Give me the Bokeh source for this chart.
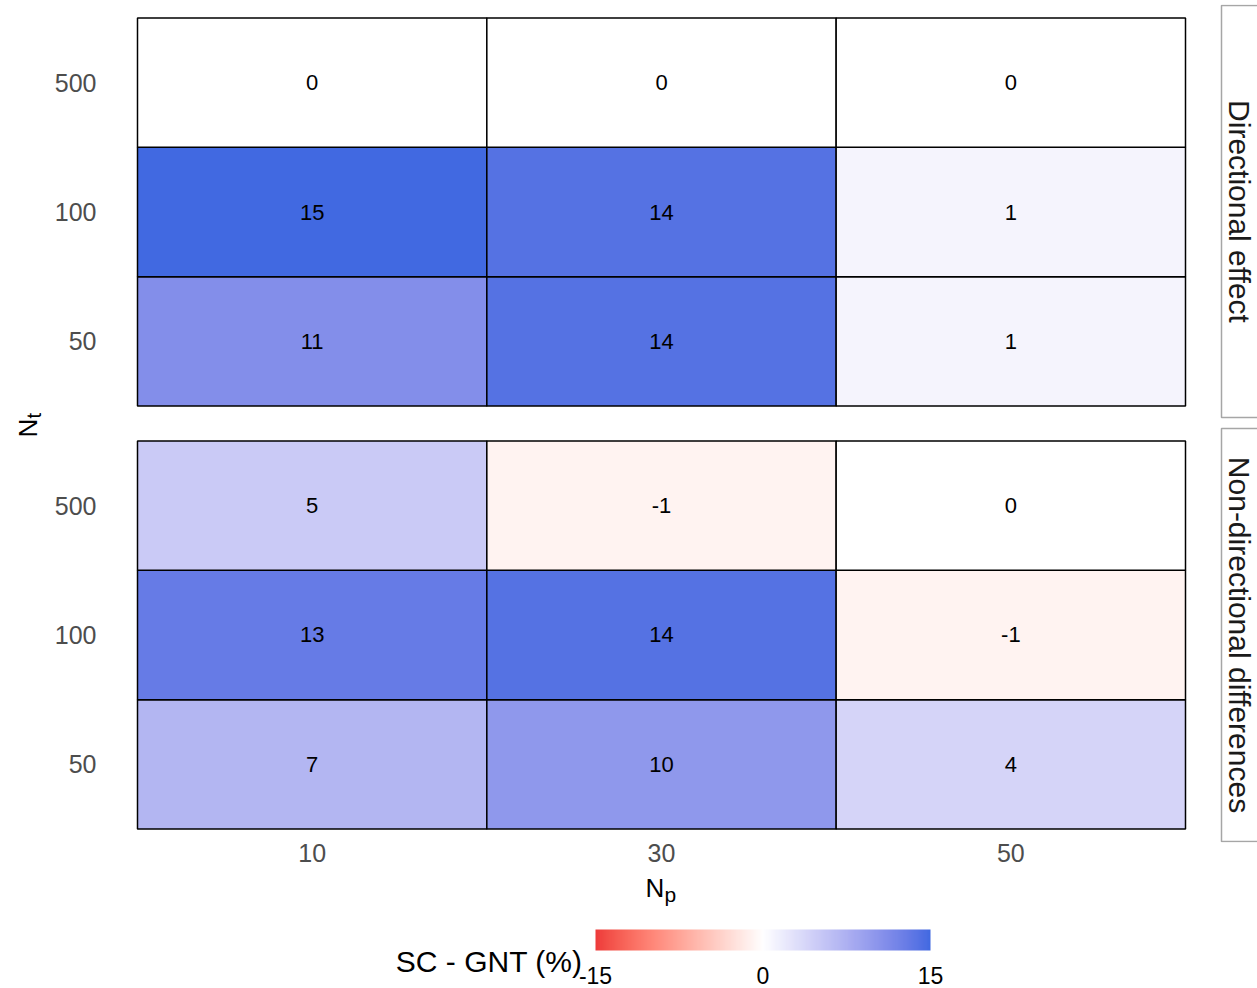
import numpy as np
from bokeh.plotting import figure
from bokeh.models import (ColumnDataSource, FactorRange, Range1d, LinearColorMapper)
from bokeh.layouts import column, row
from bokeh.transform import linear_cmap
from bokeh.core.properties import value
from bokeh.embed import file_html
from bokeh.resources import INLINE

# ---------------- data ----------------
np_levels = ["10", "30", "50"]                 # N_p (x)
nt_levels = ["50", "100", "500"]               # N_t (y, bottom -> top)
panels = ["Non-directional differences", "Directional effect"]  # bottom -> top

directional_50 = [11, 14, 1]
directional_100 = [15, 14, 1]
directional_500 = [0, 0, 0]
nondirectional_50 = [7, 10, 4]
nondirectional_100 = [13, 14, -1]
nondirectional_500 = [5, -1, 0]

legend_title = "SC - GNT (%)"
legend_ticks = [-15, 0, 15]
fill_low, fill_high = -15, 15
col_low, col_mid, col_high = "#EE3B3B", "#FFFFFF", "#4169E1"

# ---------------- colour ramp (CIELAB, like ggplot2 gradient2) ----------------
M = np.array([[0.4124564, 0.3575761, 0.1804375],
              [0.2126729, 0.7151522, 0.0721750],
              [0.0193339, 0.1191920, 0.9503041]])
Minv = np.linalg.inv(M)
WP = (0.95047, 1.0, 1.08883)
D = 6 / 29


def _lin(c):
    return c / 12.92 if c <= 0.04045 else ((c + 0.055) / 1.055) ** 2.4


def _delin(c):
    return 12.92 * c if c <= 0.0031308 else 1.055 * c ** (1 / 2.4) - 0.055


def _f(t):
    return t ** (1 / 3) if t > D ** 3 else t / (3 * D * D) + 4 / 29


def _finv(t):
    return t ** 3 if t > D else 3 * D * D * (t - 4 / 29)


def hex_to_lab(h):
    rgb = np.array([_lin(int(h[i:i + 2], 16) / 255) for i in (1, 3, 5)])
    X, Y, Z = M @ rgb
    fx, fy, fz = _f(X / WP[0]), _f(Y / WP[1]), _f(Z / WP[2])
    return np.array([116 * fy - 16, 500 * (fx - fy), 200 * (fy - fz)])


def lab_to_hex(lab):
    L, a, b = lab
    fy = (L + 16) / 116
    fx, fz = fy + a / 500, fy - b / 200
    xyz = np.array([WP[0] * _finv(fx), WP[1] * _finv(fy), WP[2] * _finv(fz)])
    lin = Minv @ xyz
    rgb = [min(1.0, max(0.0, _delin(max(0.0, c)))) for c in lin]
    return "#%02x%02x%02x" % tuple(int(round(c * 255)) for c in rgb)


lab_low, lab_mid, lab_high = hex_to_lab(col_low), hex_to_lab(col_mid), hex_to_lab(col_high)
ramp_values = np.linspace(fill_low, fill_high, 301)
palette = []
for v in ramp_values:
    if v < 0:
        t = v / fill_low
        palette.append(lab_to_hex(lab_mid + t * (lab_low - lab_mid)))
    else:
        t = v / fill_high
        palette.append(lab_to_hex(lab_mid + t * (lab_high - lab_mid)))

# ---------------- long table ----------------
panel_rows = {
    "Directional effect": {"50": directional_50, "100": directional_100, "500": directional_500},
    "Non-directional differences": {"50": nondirectional_50, "100": nondirectional_100,
                                    "500": nondirectional_500},
}
xs, ys, vals, labs = [], [], [], []
for pan in panels:
    for nt in nt_levels:
        for npv, v in zip(np_levels, panel_rows[pan][nt]):
            xs.append(npv)
            ys.append((pan, nt))
            vals.append(v)
            labs.append(str(v))
src = ColumnDataSource(dict(np=xs, nt=ys, val=vals, lab=labs))

FONT = "Liberation Sans"
TICK_GREY = "#4D4D4D"
W_TOTAL, H_TOTAL = 1257, 988
MID = 0.36          # offset from the alphabetic baseline to the "middle" anchor, in em


def blank(fig):
    fig.outline_line_color = None
    fig.grid.grid_line_color = None
    return fig


# ---------------- row 1 : y title | heat map | strips ----------------
H1 = 872
W_YLAB = 44
W_STRIP = 38
W_MAIN = W_TOTAL - W_YLAB - W_STRIP
PAD_X, PAD_Y = 3, 13.5                    # white space around the cells inside the frame
frame_left, frame_top = 134, 4            # page coordinates of the frame
frame_w, frame_h = 1054, 838
frame_bottom = frame_top + frame_h
GAP = 0.27                                # gap between the two panels (cell units)
cell_w = (frame_w - 2 * PAD_X) / len(np_levels)
cell_h = (frame_h - 2 * PAD_Y) / (2 * len(nt_levels) + GAP)

x_range = FactorRange(factors=np_levels, range_padding=2 * (PAD_X / cell_w) / len(np_levels))
y_factors = [(pan, nt) for pan in panels for nt in nt_levels]
span_y = 2 * len(nt_levels) + GAP
y_range = FactorRange(factors=y_factors, group_padding=GAP, factor_padding=0,
                      range_padding=2 * (PAD_Y / cell_h) / span_y)

p = blank(figure(width=W_MAIN, height=H1, x_range=x_range, y_range=y_range,
                 output_backend="svg", toolbar_location=None,
                 min_border_left=frame_left - W_YLAB,
                 min_border_right=W_MAIN - (frame_left - W_YLAB) - frame_w,
                 min_border_top=frame_top, min_border_bottom=H1 - frame_bottom))

p.rect(x="np", y="nt", width=1, height=1, source=src,
       fill_color=linear_cmap("val", palette, fill_low, fill_high),
       line_color="black", line_width=1.5)
p.text(x="np", y="nt", text="lab", source=src, text_font=value(FONT),
       text_font_size="22px", text_align="center", text_baseline="middle",
       text_color="black")

for ax in (p.xaxis[0], p.yaxis[0]):
    ax.axis_line_color = None
    ax.major_tick_line_color = None
    ax.minor_tick_line_color = None
    ax.major_tick_out = 0
    ax.major_tick_in = 0
    ax.major_label_text_font = FONT
    ax.major_label_text_font_size = "25px"
    ax.major_label_text_color = TICK_GREY
p.xaxis.major_label_standoff = 1
p.yaxis.major_label_standoff = frame_left - 96
p.yaxis.group_text_font_size = "0px"
p.yaxis.group_text_color = None
p.yaxis.separator_line_color = None


def side_fig(w, x0):
    """figure sharing the heat map's frame rows; ranges are page pixels"""
    return blank(figure(width=w, height=H1, x_range=Range1d(x0, x0 + w),
                        y_range=Range1d(frame_bottom, frame_top),
                        min_border_left=0, min_border_right=0,
                        min_border_top=frame_top, min_border_bottom=H1 - frame_bottom,
                        output_backend="svg", toolbar_location=None,
                        x_axis_location=None, y_axis_location=None))


# y title N_t (rotated, with subscript); x given at the glyph middle line
ylab = side_fig(W_YLAB, 0)
ylab.text(x=[37 - MID * 26], y=[437], text=["N"], angle=np.pi / 2, text_font=value(FONT),
          text_font_size="26px", text_align="left", text_baseline="middle",
          text_color="black")
ylab.text(x=[41 - MID * 20], y=[418], text=["t"], angle=np.pi / 2, text_font=value(FONT),
          text_font_size="20px", text_align="left", text_baseline="middle",
          text_color="black")

# facet strips
strip = side_fig(W_STRIP, W_TOTAL - W_STRIP)
strip_names = panels[::-1]          # top -> bottom
strip.quad(left=1221, right=1300, top=[5, 428], bottom=[417, 841], fill_color=None,
           line_color="#A6A6A6", line_width=1.5)
strip.text(x=[1239, 1239], y=[211, 634.5], text=strip_names, angle=-np.pi / 2,
           text_font=value(FONT), text_font_size="30px", text_align="center",
           text_baseline="middle", text_color="#1A1A1A")

# ---------------- bottom : x title + colour-bar legend ----------------
H2 = H_TOTAL - H1


def up(y):
    """page y (downwards) -> this figure's y (upwards)"""
    return H_TOTAL - y


bot = blank(figure(width=W_TOTAL, height=H2, x_range=Range1d(0, W_TOTAL),
                   y_range=Range1d(0, H2), min_border=0, output_backend="svg",
                   toolbar_location=None, x_axis_location=None, y_axis_location=None))

# x title N_p (baselines 896.5 / 901)
bot.text(x=[645], y=[up(896.5 - MID * 26)], text=["N"], text_font=value(FONT),
         text_font_size="26px", text_align="left", text_baseline="middle",
         text_color="black")
bot.text(x=[664], y=[up(901.5 - MID * 21)], text=["p"], text_font=value(FONT),
         text_font_size="21px", text_align="left", text_baseline="middle",
         text_color="black")

# colour bar: value range mapped onto page pixels 595..930
bar_left, bar_right, bar_top, bar_bottom = 595, 930, 929, 950
scale = (fill_high - fill_low) / (bar_right - bar_left)
bot.extra_x_ranges = {"val": Range1d(fill_low - bar_left * scale,
                                     fill_high + (W_TOTAL - bar_right) * scale)}
mapper = LinearColorMapper(palette=palette, low=fill_low, high=fill_high)
bot.image(image=[ramp_values[None, :]], x=fill_low, y=up(bar_bottom),
          dw=fill_high - fill_low, dh=bar_bottom - bar_top, color_mapper=mapper,
          x_range_name="val")
bot.text(x=legend_ticks, y=[up(983 - MID * 23)] * len(legend_ticks),
         text=[str(t) for t in legend_ticks], x_range_name="val",
         text_font=value(FONT), text_font_size="23px", text_align="center",
         text_baseline="middle", text_color="black")
bot.text(x=[582], y=[up(971.5 - MID * 30)], text=[legend_title], text_font=value(FONT),
         text_font_size="30px", text_align="right", text_baseline="middle",
         text_color="black")

layout = column(row(ylab, p, strip), bot)
open("out.html", "w").write(file_html(layout, INLINE))
